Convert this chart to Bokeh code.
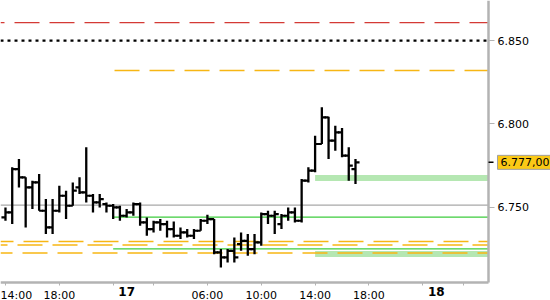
import numpy as np
from bokeh.plotting import figure
from bokeh.models import FixedTicker, Label, Range1d, LinearAxis
from bokeh.embed import file_html
from bokeh.resources import INLINE

# ---- data -------------------------------------------------------------
# 30-minute bars; x = session hours (16th 14:00 = 14, one overnight hour skipped)
bar_hours = list(np.arange(14.0, 40.5, 0.5))
opens  = [6744, 6747, 6773, 6768, 6762, 6765, 6748, 6738, 6748, 6757,
          6751, 6762, 6759, 6757, 6753, 6752, 6751, 6750, 6745, 6747,
          6752, 6741, 6737, 6741, 6740, 6737, 6733, 6735, 6733, 6736,
          6742, 6743, 6723, 6720, 6724, 6728, 6730, 6725, 6729, 6746,
          6745, 6740, 6745, 6747, 6742, 6766, 6772, 6788, 6804, 6790,
          6795, 6781, 6773]
highs  = [6750, 6774, 6779, 6768, 6766, 6770, 6755, 6755, 6763, 6760,
          6765, 6768, 6786, 6758, 6758, 6753, 6752, 6751, 6749, 6753,
          6753, 6744, 6742, 6743, 6742, 6741.6, 6738, 6737, 6737, 6743,
          6745.6, 6743, 6725, 6725, 6732, 6735, 6734, 6734, 6747, 6748,
          6748, 6746, 6750, 6750, 6767, 6774, 6793, 6810, 6804.4, 6799,
          6797.6, 6786, 6779]
lows   = [6742, 6740, 6762, 6738, 6749, 6748, 6734, 6734, 6747, 6743,
          6751, 6758, 6753, 6747, 6750, 6747, 6743, 6742, 6744, 6745,
          6739, 6733, 6735, 6736, 6732, 6732, 6731, 6732, 6731, 6736,
          6740, 6722, 6714, 6717, 6717, 6724, 6721, 6722, 6727, 6740,
          6734, 6737, 6742, 6741, 6741, 6765, 6771, 6788, 6779, 6784,
          6780, 6766, 6764]
closes = [6747, 6773, 6768, 6762, 6765, 6748, 6738, 6748, 6757, 6751,
          6760, 6759, 6757, 6753, 6755, 6751, 6750, 6745, 6747, 6752,
          6741, 6737, 6741, 6740, 6737, 6733, 6735, 6733, 6736, 6742,
          6743, 6723, 6720, 6724, 6720, 6730, 6725, 6729, 6746, 6745,
          6746, 6745, 6747, 6742, 6766, 6772, 6788, 6804, 6790, 6795,
          6781, 6775, 6777]
last_price = 6777
last_price_label = "6.777,00"

x_tick_pos = [14, 18, 22, 25, 29, 33, 37, 41, 45, 48]
x_tick_labels = ["14:00", "18:00", "", "", "06:00", "10:00", "14:00", "18:00", "", ""]
day_pos = [23, 46]
day_labels = ["17", "18"]

y_tick_pos = [6750, 6800, 6850]
y_tick_labels = ["6.750", "6.800", "6.850"]

# horizontal levels
red_level = 6860.7
dotted_level = 6850
grey_level = 6751.4
orange_top_level, orange_top_start = 6832, 22.1
green_levels, green_start = [6744.2, 6725.1], 22
band_levels, band_start = [6767.6, 6722.1], 37
orange_low_levels = [6729.6, 6727.5, 6722.7]
orange_low_offsets = [12, 18, 13]

# ---- scales -------------------------------------------------------------
W, H = 550, 300
px_per_h = 13.462          # pixels per hour
px_per_u = 1.6686          # pixels per price unit
x_lo = 13.63               # hour at left edge
x_edge = x_lo + 488 / px_per_h      # plot area right edge (price axis)
x_hi = x_lo + W / px_per_h
y_top = 6874.0
y_edge = y_top - 282 / px_per_u     # plot area bottom (time axis)
y_lo = y_top - H / px_per_u

p = figure(width=W, height=H, output_backend="svg", toolbar_location=None,
           x_range=Range1d(x_lo, x_hi), y_range=Range1d(y_lo, y_top),
           x_axis_type=None, y_axis_type=None,
           min_border=0, min_border_left=0, min_border_right=0,
           min_border_top=0, min_border_bottom=0)
p.outline_line_color = None
p.background_fill_color = "white"
p.border_fill_color = "white"

AXIS_GREY = "#b3b3b3"

ax = LinearAxis(fixed_location=y_edge, bounds=(x_lo, x_edge))
ax.ticker = FixedTicker(ticks=x_tick_pos)
ax.major_label_overrides = {k: v for k, v in zip(x_tick_pos, x_tick_labels)}
ax.axis_line_color = None
ax.major_tick_line_color = AXIS_GREY
ax.major_tick_out = 3
ax.major_tick_in = 0
ax.minor_tick_line_color = None
ax.major_label_standoff = 3
ax.major_label_text_font = "DejaVu Sans"
ax.major_label_text_font_size = "11px"
ax.major_label_text_color = "#000000"
p.add_layout(ax, "below")

ay = LinearAxis(fixed_location=x_edge, bounds=(y_edge, y_top))
ay.ticker = FixedTicker(ticks=y_tick_pos)
ay.major_label_overrides = {k: v for k, v in zip(y_tick_pos, y_tick_labels)}
ay.axis_line_color = None
ay.major_tick_line_color = AXIS_GREY
ay.major_tick_out = 6
ay.major_tick_in = 0
ay.minor_tick_line_color = None
ay.major_label_standoff = 3
ay.major_label_text_font = "DejaVu Sans"
ay.major_label_text_font_size = "11px"
ay.major_label_text_color = "#000000"
p.add_layout(ay, "right")

# bands (filled strips)
band_h = 6 / px_per_u
p.hbar(y=band_levels, height=band_h, left=band_start, right=x_edge,
       fill_color="#b5e7b2", line_color=None)

# horizontal lines
p.segment(x0=x_lo, x1=x_edge, y0=red_level, y1=red_level, line_color="#d43a35",
          line_width=1.2, line_dash="25 10", line_dash_offset=21)
p.segment(x0=x_lo, x1=x_edge, y0=dotted_level, y1=dotted_level,
          line_color="#000000", line_width=2.2, line_dash="3 4")
p.segment(x0=x_lo, x1=x_edge, y0=grey_level, y1=grey_level,
          line_color="#a8a8a8", line_width=1.2)
p.segment(x0=orange_top_start, x1=x_edge, y0=orange_top_level, y1=orange_top_level,
          line_color="#f7b614", line_width=1.5, line_dash="25 10")
for lv in green_levels:
    p.segment(x0=green_start, x1=x_edge, y0=lv, y1=lv, line_color="#3ccc3c",
              line_width=1.2)
for lv, off in zip(orange_low_levels, orange_low_offsets):
    p.segment(x0=x_lo, x1=x_edge, y0=lv, y1=lv, line_color="#f7b614",
              line_width=1.5, line_dash="25 10", line_dash_offset=off)

# axis lines (frame edges of the price and time axes)
p.segment(x0=[x_lo, x_edge], x1=[x_edge, x_edge], y0=[y_edge, y_edge],
          y1=[y_edge, y_top], line_color=AXIS_GREY, line_width=2.5)

# OHLC bars drawn as thin filled bars
stem_w = 2.3 / px_per_h
tick_h = 2.2 / px_per_u
tick = 0.3
hrs = np.array(bar_hours)
p.vbar(x=hrs, width=stem_w, bottom=lows, top=highs, fill_color="black",
       line_color=None)
p.hbar(y=opens, height=tick_h, left=hrs - tick, right=hrs, fill_color="black",
       line_color=None)
p.hbar(y=closes, height=tick_h, left=hrs, right=hrs + tick, fill_color="black",
       line_color=None)

# day labels (bold)
for xp, txt in zip(day_pos, day_labels):
    p.add_layout(Label(x=xp, y=y_edge - 4.5 / px_per_u, text=txt,
                       text_align="center", text_baseline="top",
                       text_font="DejaVu Sans", text_font_style="bold",
                       text_font_size="12px", text_color="#000000"))

# last price marker
p.hbar(y=[last_price], height=1.5 / px_per_u, left=x_edge,
       right=x_edge + 5 / px_per_h, fill_color="black", line_color=None)
p.add_layout(Label(x=x_edge + 9 / px_per_h, y=last_price, text=last_price_label,
                   text_align="left", text_baseline="middle",
                   text_font="DejaVu Sans", text_font_size="11px",
                   text_color="#000000", background_fill_color="#fbc916",
                   border_line_color="#a0a0a0", border_line_width=1,
                   padding=3))

open("out.html", "w").write(file_html(p, INLINE))
